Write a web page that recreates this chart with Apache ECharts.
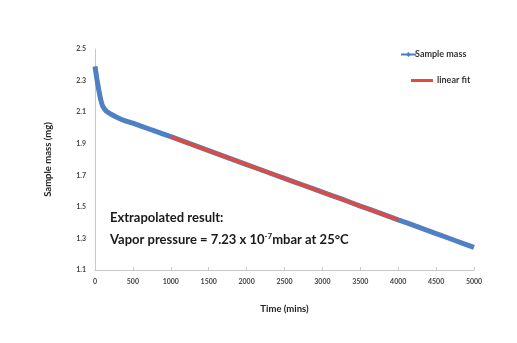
<!DOCTYPE html>
<html>
<head>
<meta charset="utf-8">
<script src="https://cdn.jsdelivr.net/npm/echarts@6/dist/echarts.min.js"></script>
<style>
  html, body { margin: 0; padding: 0; background: #fff; }
  #chart { width: 517px; height: 343px; }
</style>
</head>
<body>
<div id="chart"></div>
<script>
"use strict";

// time in mins, mass in mg
var times  = [0, 25, 50, 75, 100, 150, 200, 300, 400, 500, 750, 1000, 1250, 1500, 1750, 2000, 2250, 2500, 2750, 3000, 3250, 3500, 3750, 4000, 4250, 4500, 4750, 5000];
var masses = [2.39, 2.31, 2.24, 2.18, 2.14, 2.105, 2.09, 2.065, 2.045, 2.03, 1.987, 1.945, 1.90, 1.856, 1.812, 1.768, 1.724, 1.68, 1.637, 1.593, 1.55, 1.505, 1.462, 1.418, 1.375, 1.331, 1.287, 1.243];
var fitTimes  = [1000, 4000];
var fitMasses = [1.943, 1.418];
var yTicks = [1.1, 1.3, 1.5, 1.7, 1.9, 2.1, 2.3, 2.5];

var blue = '#4f7fc4';
var red = '#e5493a';
var font = 'Lato, "Open Sans", sans-serif';

function pairs(xs, ys) {
    var out = [];
    for (var i = 0; i < xs.length; i++) out.push([xs[i], ys[i]]);
    return out;
}

var chart = echarts.init(document.getElementById('chart'));
var option = {
    animation: false,
    backgroundColor: '#fff',
    textStyle: { fontFamily: font },
    grid: { left: 95, right: 43, top: 49, bottom: 73 },
    legend: [
        {
            data: ['Sample mass'], left: 395, top: 45, itemWidth: 15, itemHeight: 6, itemGap: 2,
            textStyle: { fontSize: 9, fontWeight: 'bold', color: '#333', fontFamily: font, padding: [0, 0, 0, -6] }
        },
        {
            data: [{ name: 'linear fit', icon: 'rect' }], left: 406, top: 71, itemWidth: 22, itemHeight: 3,
            textStyle: { fontSize: 9, fontWeight: 'bold', color: '#333', fontFamily: font, padding: [0, 0, 0, -1] }
        }
    ],
    xAxis: {
        type: 'value', min: 0, max: 5000, interval: 500,
        name: 'Time (mins)', nameLocation: 'middle', nameGap: 34,
        nameTextStyle: { fontSize: 9.5, fontWeight: 'bold', color: '#222' },
        axisLine: { lineStyle: { color: '#c8c8c8' } },
        axisTick: { inside: true, length: 3, lineStyle: { color: '#c8c8c8' } },
        axisLabel: { fontSize: 7, fontWeight: 'bold', color: '#444', margin: 8,
            formatter: function (v) { return String(v); } },
        splitLine: { show: false }
    },
    yAxis: {
        type: 'value', min: yTicks[0], max: yTicks[yTicks.length - 1], interval: 0.2,
        name: 'Sample mass (mg)', nameLocation: 'middle', nameGap: 42,
        nameTextStyle: { fontSize: 9.5, fontWeight: 'bold', color: '#222' },
        axisLine: { show: true, lineStyle: { color: '#c8c8c8' } },
        axisTick: { show: false },
        axisLabel: { fontSize: 7, fontWeight: 'bold', color: '#444', margin: 9,
            formatter: function (v) { return v.toFixed(1); } },
        splitLine: { show: false }
    },
    series: [
        {
            name: 'Sample mass', type: 'line', data: pairs(times, masses),
            symbol: 'diamond', symbolSize: 6, showSymbol: false, smooth: 0.2,
            itemStyle: { color: blue },
            lineStyle: { color: blue, width: 5 }
        },
        {
            name: 'linear fit', type: 'line', data: pairs(fitTimes, fitMasses),
            symbol: 'none', z: 3,
            itemStyle: { color: red },
            lineStyle: { color: red, width: 3.5 }
        }
    ],
    graphic: [
        {
            type: 'text', left: 110, top: 211,
            style: { text: 'Extrapolated result:', font: 'bold 13px ' + font, fill: '#1a1a1a' }
        },
        {
            type: 'text', left: 110, top: 232,
            style: {
                text: '{n|Vapor pressure = 7.23 x 10}{s|-7}{n|mbar at 25°C}',
                rich: {
                    n: { fontSize: 13, fontWeight: 'bold', fontFamily: 'Lato', fill: '#1a1a1a', verticalAlign: 'bottom' },
                    s: { fontSize: 8, fontWeight: 'bold', fontFamily: 'Lato', fill: '#1a1a1a', verticalAlign: 'top', padding: [0, 0, 6, 0] }
                }
            }
        }
    ]
};
chart.setOption(option);
</script>
</body>
</html>
